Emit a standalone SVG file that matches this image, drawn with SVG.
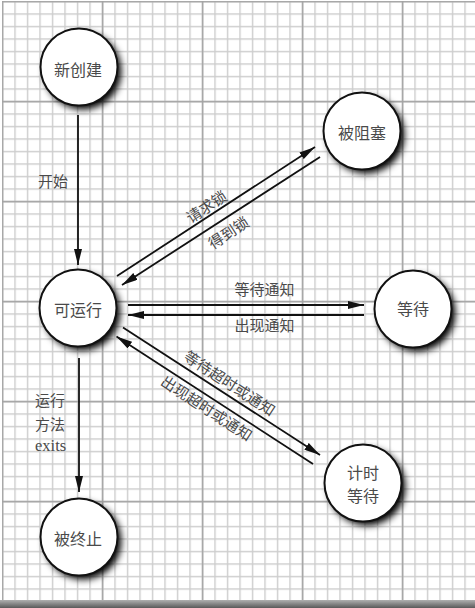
<svg xmlns="http://www.w3.org/2000/svg" width="475" height="608" viewBox="0 0 475 608">
<defs>
<pattern id="minor" width="12.5" height="12.5" patternUnits="userSpaceOnUse" x="1.8" y="0.8">
<path d="M0,0.7 H12.5 M0.7,0 V12.5" stroke="#cdcdcd" stroke-width="1.4" fill="none"/>
</pattern>
<pattern id="major" width="100" height="100" patternUnits="userSpaceOnUse" x="1.8" y="0.8">
<path d="M0,0.7 H100 M0.7,0 V100" stroke="#a3a3a3" stroke-width="1.5" fill="none"/>
</pattern>
<linearGradient id="shadowBand" x1="0" y1="0" x2="0" y2="1">
<stop offset="0" stop-color="#b0b0b0"/>
<stop offset="1" stop-color="#5a5a5a"/>
</linearGradient>
<filter id="blur" x="-50%" y="-50%" width="200%" height="200%">
<feGaussianBlur stdDeviation="3.5"/>
</filter>
<marker id="arrow" markerWidth="16" markerHeight="8" refX="16" refY="4" orient="auto" markerUnits="userSpaceOnUse">
<path d="M0,0 L16,4 L0,8 Z" fill="#111"/>
</marker>
<style>
.node-shadow { fill: #000; filter: url(#blur); }
.node-circle { fill: #fff; stroke: #111; stroke-width: 2; }
.node-text { font-family: "Noto Sans CJK SC", sans-serif; font-size: 16px; fill: #4a4a4a; text-anchor: middle; dominant-baseline: central; }
.edge { stroke: #111; stroke-width: 1.8; fill: none; }
.label { font-family: "Noto Sans CJK SC", sans-serif; font-size: 15px; fill: #4a4a4a; }
.serif { font-family: "Liberation Serif", serif; font-size: 16.5px; fill: #4a4a4a; }
</style>
</defs>

<g id="background">
<rect x="0" y="0" width="475" height="608" fill="#fff"/>
<rect x="2" y="1" width="473" height="600" fill="url(#minor)"/>
<rect x="2" y="1" width="473" height="600" fill="url(#major)"/>
<rect x="0" y="600" width="475" height="8" fill="url(#shadowBand)"/>
</g>

<g id="connectors">
<line class="edge" x1="78" y1="115" x2="78" y2="265" marker-end="url(#arrow)"/>
<line class="edge" x1="117" y1="276" x2="315" y2="147" marker-end="url(#arrow)"/>
<line class="edge" x1="320" y1="157" x2="122" y2="285" marker-end="url(#arrow)"/>
<line class="edge" x1="128" y1="305" x2="364" y2="305" marker-end="url(#arrow)"/>
<line class="edge" x1="364" y1="315" x2="128" y2="315" marker-end="url(#arrow)"/>
<line class="edge" x1="123" y1="327.5" x2="320" y2="455" marker-end="url(#arrow)"/>
<line class="edge" x1="313" y1="464" x2="116.5" y2="336.5" marker-end="url(#arrow)"/>
<line class="edge" x1="79" y1="358" x2="79" y2="492" marker-end="url(#arrow)"/>
<text class="label" x="38" y="187">开始</text>
<text class="label" text-anchor="middle" dominant-baseline="central" transform="translate(206,206) rotate(-33)">请求锁</text>
<text class="label" text-anchor="middle" dominant-baseline="central" transform="translate(228,232) rotate(-33)">得到锁</text>
<text class="label" text-anchor="middle" x="264.5" y="295">等待通知</text>
<text class="label" text-anchor="middle" x="264.5" y="331">出现通知</text>
<text class="label" text-anchor="middle" dominant-baseline="central" transform="translate(230,382.5) rotate(33)">等待超时或通知</text>
<text class="label" text-anchor="middle" dominant-baseline="central" transform="translate(207,407.5) rotate(33)">出现超时或通知</text>
<text class="label" x="35" y="406">运行</text>
<text class="label" x="35" y="430">方法</text>
<text class="serif" x="35" y="451">exits</text>
</g>

<g id="node-new">
<circle class="node-shadow" cx="83" cy="71" r="38.5"/>
<circle class="node-circle" cx="79" cy="67" r="38.5"/>
<text class="node-text" x="78" y="69">新创建</text>
</g>

<g id="node-blocked">
<circle class="node-shadow" cx="366" cy="135" r="38.5"/>
<circle class="node-circle" cx="362" cy="131" r="38.5"/>
<text class="node-text" x="362" y="132">被阻塞</text>
</g>

<g id="node-runnable">
<circle class="node-shadow" cx="82" cy="312" r="38.5"/>
<circle class="node-circle" cx="78" cy="308" r="38.5"/>
<text class="node-text" x="78" y="309">可运行</text>
</g>

<g id="node-waiting">
<circle class="node-shadow" cx="417" cy="313" r="38.5"/>
<circle class="node-circle" cx="413" cy="309" r="38.5"/>
<text class="node-text" x="413" y="308">等待</text>
</g>

<g id="node-timed-waiting">
<circle class="node-shadow" cx="367" cy="487" r="38.5"/>
<circle class="node-circle" cx="363" cy="483" r="38.5"/>
<text class="node-text" x="363" y="472">计时</text>
<text class="node-text" x="363" y="495">等待</text>
</g>

<g id="node-terminated">
<circle class="node-shadow" cx="83" cy="541" r="38.5"/>
<circle class="node-circle" cx="79" cy="537" r="38.5"/>
<text class="node-text" x="78" y="538">被终止</text>
</g>
</svg>
